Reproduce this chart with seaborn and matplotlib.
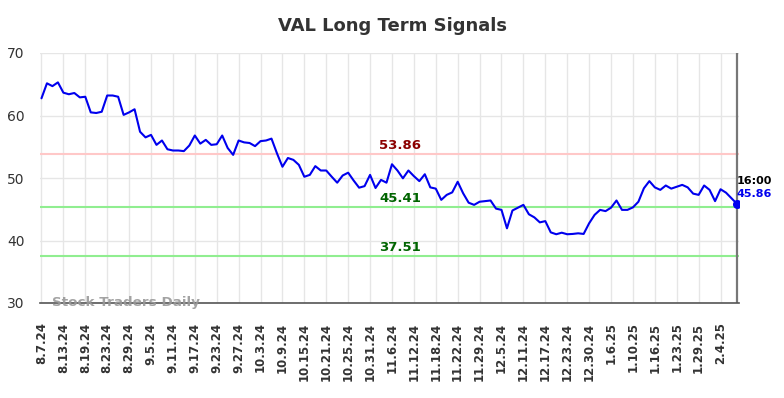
import matplotlib
matplotlib.use("Agg")
import matplotlib.pyplot as plt
import seaborn as sns
import numpy as np
import pandas as pd

tick_labels = ["8.7.24", "8.13.24", "8.19.24", "8.23.24", "8.29.24", "9.5.24", "9.11.24",
               "9.17.24", "9.23.24", "9.27.24", "10.3.24", "10.9.24", "10.15.24", "10.21.24",
               "10.25.24", "10.31.24", "11.6.24", "11.12.24", "11.18.24", "11.22.24",
               "11.29.24", "12.5.24", "12.11.24", "12.17.24", "12.23.24", "12.30.24",
               "1.6.25", "1.10.25", "1.16.25", "1.23.25", "1.29.25", "2.4.25"]

values = [62.75, 65.15, 64.7, 65.3, 63.65, 63.4, 63.6, 62.9, 63.0, 60.5,
          60.4, 60.6, 63.2, 63.2, 63.0, 60.1, 60.5, 61.0, 57.4, 56.5,
          56.9, 55.3, 56.0, 54.6, 54.4, 54.4, 54.3, 55.2, 56.8, 55.5,
          56.1, 55.3, 55.4, 56.8, 54.8, 53.7, 56.0, 55.7, 55.6, 55.1,
          55.9, 56.0, 56.3, 53.95, 51.8, 53.2, 52.9, 52.1, 50.2, 50.5,
          51.9, 51.2, 51.2, 50.2, 49.25, 50.4, 50.85, 49.6, 48.45, 48.7,
          50.5, 48.4, 49.7, 49.25, 52.2, 51.2, 49.95, 51.2, 50.3, 49.5,
          50.6, 48.5, 48.3, 46.5, 47.3, 47.7, 49.4, 47.55, 46.05, 45.7,
          46.2, 46.3, 46.4, 45.1, 44.9, 41.95, 44.8, 45.25, 45.7, 44.2,
          43.7, 42.9, 43.1, 41.3, 41.0, 41.25, 41.0, 41.05, 41.15, 41.05,
          42.75, 44.1, 44.9, 44.7, 45.25, 46.4, 44.9, 44.9, 45.3, 46.2,
          48.35, 49.5, 48.5, 48.1, 48.8, 48.3, 48.6, 48.9, 48.5, 47.5,
          47.3, 48.8, 48.1, 46.3, 48.2, 47.65, 46.75, 45.86]

resistance = 53.86
support_levels = [45.41, 37.51]
last_label_time = "16:00"
last_value = 45.86
title = "VAL Long Term Signals"
watermark = "Stock Traders Daily"

df = pd.DataFrame({"idx": np.arange(len(values)), "val": values})

sns.set_style("white")
fig = plt.figure(figsize=(7.84, 3.98), dpi=100)
ax = fig.add_axes([40/784, 1-303/398, 699/784, 250/398])

ax.set_xlim(-0.27, len(values) - 1 + 0.37)
ax.set_ylim(30, 70)

tick_pos = np.arange(0, len(tick_labels) * 4, 4)
ax.set_xticks(tick_pos)
ax.set_xticklabels(tick_labels, rotation=90, fontsize=8.5, fontweight="bold", color="#333333")
ax.set_yticks([30, 40, 50, 60, 70])
ax.set_yticklabels(["30", "40", "50", "60", "70"], fontsize=10, color="#333333")
ax.tick_params(axis="both", length=0)
ax.tick_params(axis="x", pad=14)
ax.tick_params(axis="y", pad=11)

ax.grid(True, color="#e6e6e6", linewidth=1)
ax.set_axisbelow(True)
for s in ["top", "left", "right"]:
    ax.spines[s].set_visible(False)
ax.spines["bottom"].set_color("#555555")
ax.spines["bottom"].set_linewidth(1.2)

ax.axhline(resistance, color="#ffc8c8", linewidth=1.5, zorder=1)
for lv in support_levels:
    ax.axhline(lv, color="#90ee90", linewidth=1.5, zorder=1)

sns.lineplot(data=df, x="idx", y="val", ax=ax, color="#0000ee", linewidth=1.5, zorder=3)
ax.set_xlabel("")
ax.set_ylabel("")

mid = 65.5
ax.text(mid, resistance + 1.3, f"{resistance:.2f}", color="#8b0000", fontsize=9.5,
        fontweight="bold", ha="center", va="center")
for lv in support_levels:
    ax.text(mid, lv + 1.3, f"{lv:.2f}", color="#006400", fontsize=9.5,
            fontweight="bold", ha="center", va="center")

last_i = len(values) - 1
ax.axvline(last_i, color="#777777", linewidth=1.6, zorder=2)
ax.scatter([last_i], [last_value], s=30, color="#0000ee", zorder=4)
ax.text(last_i, last_value + 3.7, last_label_time, color="black", fontsize=8,
        fontweight="bold", ha="left", va="center", clip_on=False)
ax.text(last_i, last_value + 1.6, f"{last_value:.2f}", color="#0000ee", fontsize=8,
        fontweight="bold", ha="left", va="center", clip_on=False)

ax.text(2, 30.1, watermark, color="#999999", fontsize=9.7, fontweight="bold",
        ha="left", va="center", alpha=0.9, zorder=5)

fig.text(0.5, 1 - 26/398, title, ha="center", va="center", fontsize=13,
         fontweight="bold", color="#333333")

fig.savefig("out.png", dpi=100)
